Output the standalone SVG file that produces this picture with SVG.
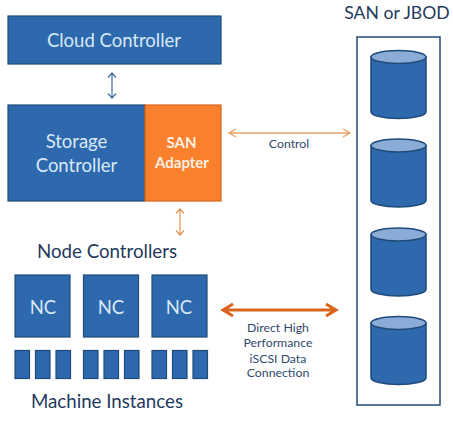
<svg xmlns="http://www.w3.org/2000/svg" width="453" height="426" viewBox="0 0 453 426">
<style>
text{font-family:"Lato","Open Sans","Liberation Sans",sans-serif;text-anchor:middle}
.b{fill:#2e69ae;stroke:#1f4a7a;stroke-width:1.2}
.w{fill:#d9e8f6;font-size:18.5px}
.d{fill:#1f3a5c;font-size:18.700px}
.s{fill:#2f4a6b;font-size:12.300px}
.c{fill:#2e69ae;stroke:#1f4a7a;stroke-width:1.5}
.t{fill:#8aacd6;stroke:#1f4a7a;stroke-width:1.5}
</style>
<defs>
<g id="cyl"><path class="c" d="M371 57V112A27.500 6.500 0 0 0 426 112V57Z"/><ellipse class="t" cx="398.500" cy="57" rx="27.500" ry="6.500"/></g>
</defs>
<rect width="453" height="426" fill="#fff"/>
<g id="connectors" fill="none">
<path d="M112 73V98M108 77.500L112 73L116 77.500M108 93.500L112 98L116 93.500" stroke="#3f6fa5" stroke-width="1.200"/>
<path d="M180 209V235M176 213.500L180 209L184 213.500M176 230.500L180 235L184 230.500" stroke="#e0934f" stroke-width="1.200"/>
<path d="M229 133H350M236 129L229 133L236 137M343 129L350 133L343 137" stroke="#eda468" stroke-width="1.400"/>
<path d="M223 310H336M233 304L223 310L233 316M326 304L336 310L326 316" stroke="#d9651c" stroke-width="3"/>
</g>
<g id="cloud-controller"><rect class="b" x="8" y="16" width="213" height="48"/><text class="w" x="114" y="47">Cloud Controller</text></g>
<g id="storage-controller"><rect class="b" x="8" y="105" width="137" height="96"/><text class="w" x="76.500" y="148">Storage</text><text class="w" x="76.500" y="172">Controller</text></g>
<g id="san-adapter"><rect x="145" y="105" width="76" height="96" fill="#f9812e" stroke="#d9651c" stroke-width="1.200"/><text x="181.500" y="148" fill="#fdeee0" font-size="15" font-weight="700">SAN</text><text x="182" y="168" fill="#fdeee0" font-size="15" font-weight="700">Adapter</text></g>
<g id="label-node-controllers"><text class="d" x="107" y="258">Node Controllers</text></g>
<g id="nc-1"><rect class="b" x="15" y="275" width="55" height="62"/><text class="w" x="43" y="314">NC</text></g>
<g id="nc-2"><rect class="b" x="83.500" y="275" width="55" height="62"/><text class="w" x="111" y="314">NC</text></g>
<g id="nc-3"><rect class="b" x="152" y="275" width="55" height="62"/><text class="w" x="179" y="314">NC</text></g>
<g id="machine-instances">
<rect class="b" x="15" y="350.500" width="14.500" height="28"/><rect class="b" x="35.500" y="350.500" width="14.500" height="28"/><rect class="b" x="56" y="350.500" width="14.500" height="28"/>
<rect class="b" x="83.500" y="350.500" width="14.500" height="28"/><rect class="b" x="104" y="350.500" width="14.500" height="28"/><rect class="b" x="124.500" y="350.500" width="14.500" height="28"/>
<rect class="b" x="152" y="350.500" width="14.500" height="28"/><rect class="b" x="172.500" y="350.500" width="14.500" height="28"/><rect class="b" x="193" y="350.500" width="14.500" height="28"/>
</g>
<g id="label-machine-instances"><text class="d" x="107" y="408">Machine Instances</text></g>
<g id="label-san-jbod"><text class="d" style="font-size:17.600px" x="397" y="19">SAN or JBOD</text></g>
<g id="san-box"><rect x="357" y="37" width="83" height="368" fill="#fff" stroke="#1f4a7a" stroke-width="1.500"/></g>
<g id="disk-1"><use href="#cyl"/></g>
<g id="disk-2"><use href="#cyl" y="88.500"/></g>
<g id="disk-3"><use href="#cyl" y="177.500"/></g>
<g id="disk-4"><use href="#cyl" y="266"/></g>
<g id="label-control"><text class="s" x="289" y="148">Control</text></g>
<g id="label-direct"><text class="s" x="278" y="332">Direct High</text><text class="s" x="278" y="347">Performance</text><text class="s" x="278" y="363">iSCSI Data</text><text class="s" x="278" y="377">Connection</text></g>
</svg>
